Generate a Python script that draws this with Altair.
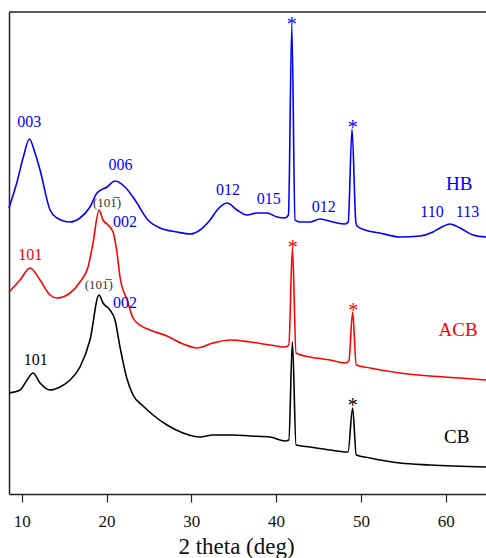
import altair as alt
import pandas as pd

# ---- data (2theta in deg, intensity in arbitrary offset units) ----
series_names = ["HB", "ACB", "CB"]
series_colors = ["#0000ff", "#ff0000", "#000000"]

hb_x = [8.50, 9.41, 10.19, 10.90, 11.57, 12.16, 13.34, 14.16, 15.70, 16.87, 18.05, 18.88,
        20.06, 21.00, 22.18, 23.36, 24.89, 26.31, 28.31, 29.85, 31.03, 32.21, 33.15, 34.21,
        35.39, 36.57, 37.75, 38.93, 40.11, 41.05, 41.45, 41.85, 42.23, 42.82, 44.00, 45.18,
        46.71, 48.13, 48.50, 48.95, 49.40, 49.54, 50.48, 52.25, 54.61, 56.97, 58.50, 59.33,
        60.51, 61.69, 63.22, 64.75]
hb_y = [286, 311, 337, 355, 341, 324, 284, 276, 272, 276, 287, 301,
        307, 313, 307, 294, 274, 266, 262, 260, 264, 274, 285, 291,
        284, 279, 281, 281, 277, 276, 279, 469, 274, 272, 272, 275,
        272, 270, 272, 365, 272, 268, 264, 261, 257, 258, 262, 266,
        270, 266, 259, 257]

acb_x = [8.50, 9.80, 10.98, 12.16, 13.34, 14.16, 15.70, 16.87, 17.82, 18.41, 19.12, 19.59,
         20.18, 20.77, 21.24, 21.59, 22.42, 23.13, 23.95, 25.13, 27.13, 29.02, 30.67, 32.56,
         34.56, 36.92, 39.28, 41.05, 41.50, 41.92, 42.35, 44.00, 46.36, 48.13, 48.58, 49.02,
         49.45, 51.07, 54.61, 58.15, 61.69, 64.75]
acb_y = [202, 214, 226, 214, 199, 196, 201, 212, 227, 251, 284, 274,
         269, 262, 241, 217, 194, 176, 169, 164, 158, 150, 146, 151,
         154, 152, 149, 147, 149, 246, 141, 137, 134, 131, 133, 182,
         129, 126, 121, 118, 116, 114]

cb_x = [8.50, 9.80, 10.63, 11.33, 12.16, 13.34, 14.52, 15.70, 16.87, 18.05, 19.12, 19.59,
        20.41, 21.00, 21.59, 22.42, 23.13, 24.31, 25.49, 27.13, 29.02, 31.03, 32.56, 34.92,
        36.92, 39.28, 41.05, 41.50, 41.92, 42.35, 44.00, 46.36, 48.48, 49.02, 49.45, 51.07,
        54.61, 58.15, 64.75]
cb_y = [101, 104, 114, 121, 111, 104, 107, 114, 127, 154, 199, 191,
        184, 174, 147, 115, 99, 88, 79, 69, 61, 57, 59, 59,
        58, 57, 53, 54, 152, 49, 47, 44, 42, 86, 39, 36,
        31, 29, 27]

x_ticks = [10, 20, 30, 40, 50, 60]

ann_text = ["003", "006", "012", "015", "012", "110", "113", "HB",
            "(101\u0305)", "002", "101", "(101\u0305)", "002", "101", "ACB", "CB"]
ann_x = [10.9, 21.65, 34.33, 39.13, 45.63, 58.38, 62.57, 61.6,
         20.06, 22.19, 11.0, 19.09, 22.19, 11.65, 61.45, 61.3]
ann_y = [372, 329, 304, 295, 287, 282, 282, 310,
         291, 272, 239, 209, 191, 134, 164, 57]
ann_color = ["#0000ff"] * 8 + ["#333333", "#0000ff", "#ff0000", "#333333", "#0000ff",
                               "#000000", "#ff0000", "#000000"]
ann_size = [16, 16, 16, 16, 16, 16, 16, 19, 13, 16, 16, 13, 16, 16, 19, 19]

star_x = [41.85, 49.03, 41.96, 49.10, 49.03]
star_y = [474, 371, 251, 188, 93]
star_color = ["#0000ff", "#0000ff", "#ff0000", "#ff0000", "#000000"]

# ---- build tables ----
rows = []
for name, xs, ys in [("HB", hb_x, hb_y), ("ACB", acb_x, acb_y), ("CB", cb_x, cb_y)]:
    for i, (a, b) in enumerate(zip(xs, ys)):
        rows.append({"series": name, "i": i, "deg": a, "val": b})
df = pd.DataFrame(rows)

ann = pd.DataFrame({"t": ann_text, "x": ann_x, "y": ann_y, "c": ann_color, "s": ann_size})
stars = pd.DataFrame({"x": star_x, "y": star_y, "c": star_color})

W, H = 477, 482
FONT = "'Liberation Serif', 'Times New Roman', serif"
xscale = alt.Scale(domain=[8.5, 64.75], nice=False, zero=False)
yscale = alt.Scale(domain=[0, 482], nice=False, zero=False)

lines = alt.Chart(df).mark_line(strokeWidth=1.6, interpolate="monotone").encode(
    x=alt.X("deg:Q", scale=xscale,
            axis=alt.Axis(values=x_ticks, title="2 theta (deg)", grid=False,
                          domainColor="#222222", domainWidth=1.5,
                          tickColor="#222222", tickSize=8, tickWidth=1.2,
                          labelFont=FONT, labelFontSize=17, labelColor="#111111",
                          labelPadding=11,
                          titleFont=FONT, titleFontSize=23, titleFontWeight="normal",
                          titleColor="#111111", titleX=227, titleY=59,
                          titleBaseline="alphabetic", titleAlign="center")),
    y=alt.Y("val:Q", scale=yscale,
            axis=alt.Axis(labels=False, ticks=False, title=None, grid=False,
                          domainColor="#222222", domainWidth=1.5)),
    color=alt.Color("series:N", scale=alt.Scale(domain=series_names, range=series_colors),
                    legend=None),
    order="i:Q",
)

labels = alt.Chart(ann).mark_text(font=FONT, baseline="middle", align="center").encode(
    x=alt.X("x:Q", scale=xscale),
    y=alt.Y("y:Q", scale=yscale),
    text="t:N",
    color=alt.Color("c:N", scale=None),
    size=alt.Size("s:Q", scale=None),
)

star_marks = alt.Chart(stars).mark_text(font=FONT, fontSize=20, baseline="middle",
                                        align="center", dy=5, text="*").encode(
    x=alt.X("x:Q", scale=xscale),
    y=alt.Y("y:Q", scale=yscale),
    color=alt.Color("c:N", scale=None),
)

top_border = alt.Chart(pd.DataFrame({"k": [0]})).mark_rule(
    color="#222222", strokeWidth=1.5).encode(
    x=alt.value(0), x2=alt.value(W), y=alt.value(0))

chart = alt.layer(lines, labels, star_marks, top_border).properties(
    width=W, height=H,
    padding={"left": 9, "top": 12, "right": 0, "bottom": 64},
    autosize=alt.AutoSizeParams(type="none"),
).configure_view(stroke=None)

chart.save("out.html", embed_options={"renderer": "svg", "actions": False})
